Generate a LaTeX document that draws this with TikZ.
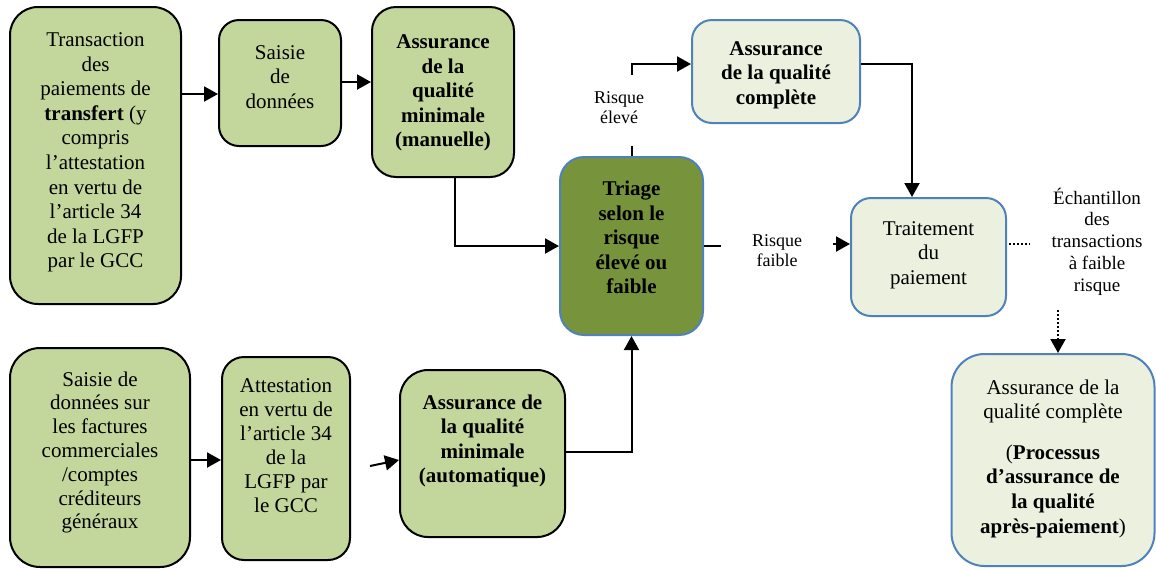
\documentclass[tikz,border=0pt]{standalone}
\usepackage{fontspec}
\setmainfont{Liberation Serif}
\usetikzlibrary{arrows.meta}
\definecolor{gfill}{HTML}{C3D69B}
\definecolor{dfill}{HTML}{77933C}
\definecolor{lfill}{HTML}{EBF1DE}
\definecolor{bline}{HTML}{4F81BD}
\begin{document}
\begin{tikzpicture}[x=0.5pt,y=-0.5pt,
 gbox/.style={draw=black, line width=1pt, fill=gfill, inner sep=0pt},
 bbox/.style={draw=bline, line width=1pt, fill=lfill, inner sep=0pt},
 dbox/.style={draw=bline, line width=1pt, fill=dfill, inner sep=0pt},
 txt/.style={align=center, font=\fontsize{10.5}{12.3}\selectfont, inner sep=0pt},
 btxt/.style={align=center, font=\fontsize{10.5}{12.3}\selectfont\bfseries, inner sep=0pt},
 lbl/.style={align=center, font=\fontsize{9}{10}\selectfont, inner sep=0pt},
 arr/.style={line width=1pt, -{Triangle[length=7pt,width=7.5pt]}},
 ln/.style={line width=1pt},
 dotl/.style={line width=1pt, dash pattern=on 1pt off 1pt}
]
\useasboundingbox (0,0) rectangle (1156,569);

% boxes
\node[gbox, rounded corners=14pt, minimum width=85.5pt, minimum height=148.5pt] (b1) at (95.5,155.5) {};
\node[gbox, rounded corners=10pt, minimum width=61pt, minimum height=63pt] (b2) at (280,83) {};
\node[gbox, rounded corners=12pt, minimum width=71pt, minimum height=85pt] (b3) at (443,92) {};
\node[dbox, rounded corners=12pt, minimum width=71.5pt, minimum height=89pt] (b4) at (631.5,246) {};
\node[bbox, rounded corners=10pt, minimum width=84pt, minimum height=51.5pt] (b5) at (776,71.5) {};
\node[bbox, rounded corners=10pt, minimum width=77.5pt, minimum height=59pt] (b6) at (928.5,257) {};
\node[bbox, rounded corners=16.5pt, minimum width=101.5pt, minimum height=106pt] (b7) at (1053,460) {};
\node[gbox, rounded corners=15pt, minimum width=90pt, minimum height=109.5pt] (b8) at (100,457.5) {};
\node[gbox, rounded corners=11pt, minimum width=64pt, minimum height=101.5pt] (b9) at (286,458.5) {};
\node[gbox, rounded corners=14pt, minimum width=82.5pt, minimum height=83.5pt] (b10) at (482.5,453.5) {};

% texts
\node[txt] (t1) at (95.5,152.5) {Transaction\\des\\paiements de\\\textbf{transfert} (y\\compris\\l’attestation\\en vertu de\\l’article 34\\de la LGFP\\par le GCC};
\node[txt] (t2) at (280,77) {Saisie\\de\\données};
\node[btxt] (t3) at (443,93) {Assurance\\de la\\qualité\\minimale\\(manuelle)};
\node[btxt] (t4) at (631.5,237.5) {Triage\\selon le\\risque\\élevé ou\\faible};
\node[btxt] (t5) at (776,75) {Assurance\\de la qualité\\complète};
\node[txt] (t6) at (928.5,255) {Traitement\\du\\paiement};
\node[txt] (t7) at (1053,458.5) {Assurance de la\\qualité complète\\[8pt](\textbf{Processus}\\\textbf{d’assurance de}\\\textbf{la qualité}\\\textbf{après-paiement})};
\node[txt, font=\fontsize{10.5}{11.9}\selectfont] (t8) at (100,452.5) {Saisie de\\données sur\\les factures\\commerciales\\/comptes\\créditeurs\\généraux};
\node[txt, font=\fontsize{10.5}{12}\selectfont] (t9) at (286,445.5) {Attestation\\en vertu de\\l’article 34\\de la\\LGFP par\\le GCC};
\node[btxt] (t10) at (482.5,441) {Assurance de\\la qualité\\minimale\\(automatique)};

% labels
\node[lbl] (l1) at (619,108) {Risque\\élevé};
\node[lbl] (l2) at (777,250.5) {Risque\\faible};
\node[align=center, font=\fontsize{9.5}{10.9}\selectfont, inner sep=0pt] (l3) at (1097,241.5) {Échantillon\\des\\transactions\\à faible\\risque};

% free ends
\coordinate (c1) at (631.5,146);
\coordinate (c2) at (631.5,75);
\coordinate (c3) at (721,246);
\coordinate (c4) at (833,244);
\coordinate (c5) at (1030,244);
\coordinate (c6) at (1058,310);
\coordinate (c7) at (370,466);

% connectors
\draw[arr] (b1.east |- 0,94) -- (b2.west |- 0,94);
\draw[arr] (b2.east |- 0,82) -- (b3.west |- 0,82);
\draw[arr] (b3.south -| 455,0) |- (b4.west);
\draw[ln] (b4.north) -- (c1);
\draw[arr] (c2) |- (b5.west |- 0,64);
\draw[arr] (b5.east |- 0,64) -| (b6.north -| 912,0);
\draw[ln] (b4.east) -- (c3);
\draw[arr] (c4) -- (b6.west |- c4);
\draw[dotl] (b6.east |- c5) ++(2,0) -- (c5);
\draw[dotl, -{Triangle[length=7pt,width=7.5pt]}] (c6) -- (b7.north -| c6);
\draw[arr] (b8.east |- 0,460) -- (b9.west |- 0,460);
\draw[arr] (c7) -- (b10.west |- 0,460);
\draw[arr] (b10.east |- 0,452) -| (b4.south);
\end{tikzpicture}
\end{document}
